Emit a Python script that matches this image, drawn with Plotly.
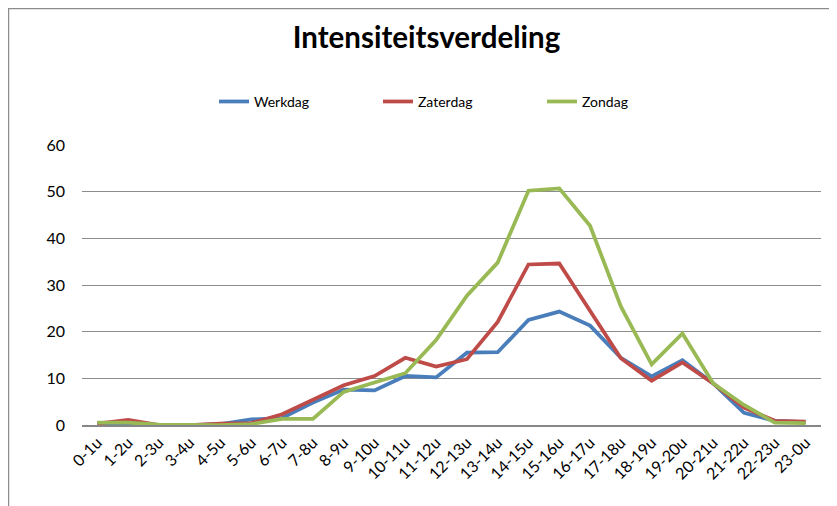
import plotly.graph_objects as go

categories = ["0-1u", "1-2u", "2-3u", "3-4u", "4-5u", "5-6u", "6-7u", "7-8u", "8-9u", "9-10u",
              "10-11u", "11-12u", "12-13u", "13-14u", "14-15u", "15-16u", "16-17u", "17-18u",
              "18-19u", "19-20u", "20-21u", "21-22u", "22-23u", "23-0u"]

werkdag = [0.4, 0.2, 0.0, 0.0, 0.2, 1.2, 1.5, 4.8, 7.6, 7.4, 10.5, 10.2, 15.5, 15.6, 22.5, 24.3,
           21.3, 14.4, 10.4, 13.9, 8.9, 2.6, 0.9, 0.6]
zaterdag = [0.3, 1.1, 0.0, 0.0, 0.3, 0.4, 2.3, 5.5, 8.5, 10.5, 14.4, 12.5, 14.1, 22.1, 34.4, 34.6,
            24.3, 14.3, 9.5, 13.4, 8.9, 3.7, 0.9, 0.7]
zondag = [0.5, 0.5, 0.1, 0.0, 0.0, 0.2, 1.3, 1.3, 7.1, 9.1, 11.1, 18.2, 27.7, 34.8, 50.2, 50.7,
          42.7, 25.4, 13.0, 19.6, 8.9, 4.3, 0.5, 0.4]

series = [("Werkdag", werkdag, "#4A7EBB"), ("Zaterdag", zaterdag, "#BE4B48"), ("Zondag", zondag, "#98B954")]

fig = go.Figure()
for name, vals, col in series:
    fig.add_trace(go.Scatter(x=categories, y=vals, name=name, mode="lines",
                             line=dict(color=col, width=3.75)))

font = "Lato, 'Open Sans', sans-serif"
fig.update_layout(
    width=837, height=506,
    margin=dict(l=74, r=24, t=137, b=89),
    paper_bgcolor="white", plot_bgcolor="white",
    font=dict(family=font, size=14, color="black"),
    title=dict(text="<b>Intensiteitsverdeling</b>", x=0.5, xanchor="center", y=0.941, yanchor="middle",
               font=dict(family=font, size=29.5, color="black")),
    showlegend=True,
    legend=dict(orientation="h", x=0.1786, xanchor="left", y=1.154, yanchor="middle",
                entrywidth=119, entrywidthmode="pixels", font=dict(size=14)),
    xaxis=dict(type="category", range=[-0.5, 23.5], tickangle=-45, showgrid=False,
               showline=True, linecolor="#868686", linewidth=2, ticks="", tickfont=dict(size=16)),
    yaxis=dict(range=[0, 60], dtick=10, showgrid=True, gridcolor="#8C8C8C", gridwidth=1,
               zeroline=False, showline=False, ticks="", tickfont=dict(size=16), ticklabelstandoff=16),
    shapes=[dict(type="rect", xref="paper", yref="paper", x0=-0.0995, x1=1.3, y0=-0.5, y1=1.4875,
                 line=dict(color="#8C8C8C", width=1.5), layer="below")],
)

fig.write_html("out.html")
